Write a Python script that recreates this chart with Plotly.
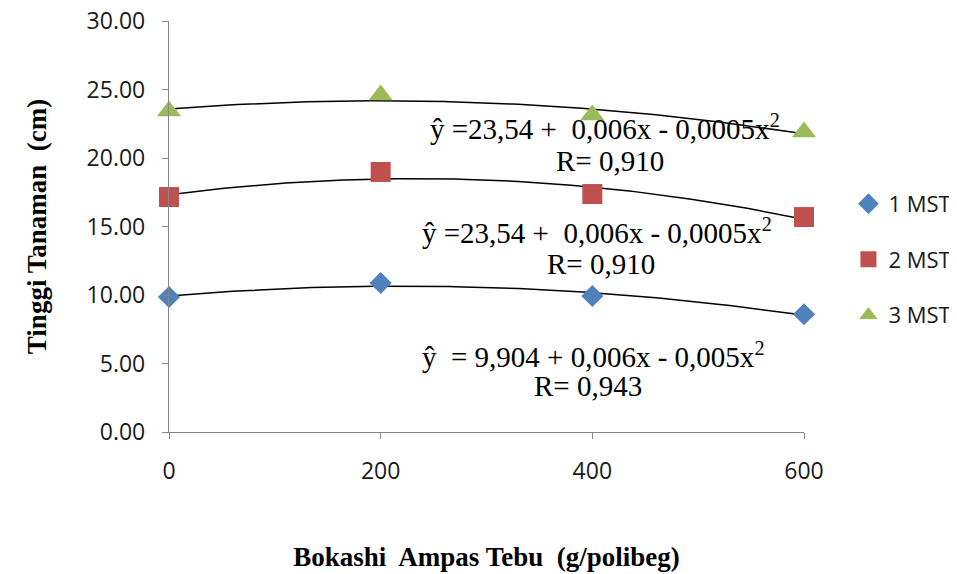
import numpy as np
import plotly.graph_objects as go

# Data
doses = [0, 200, 400, 600]
series_names = ["1 MST", "2 MST", "3 MST"]
mst1 = [9.85, 10.88, 9.93, 8.60]
mst2 = [17.15, 18.98, 17.37, 15.69]
mst3 = [23.43, 24.60, 23.14, 21.90]
y_ticks = [0, 5, 10, 15, 20, 25, 30]
y_tick_labels = ["0.00", "5.00", "10.00", "15.00", "20.00", "25.00", "30.00"]
x_ticks = [0, 200, 400, 600]

eq_lines = [
    ("ŷ  = 9,904 + 0,006x - 0,005x<sup>2</sup>", "R= 0,943"),
    ("ŷ =23,54 +  0,006x - 0,0005x<sup>2</sup>", "R= 0,910"),
    ("ŷ =23,54 +  0,006x - 0,0005x<sup>2</sup>", "R= 0,910"),
]

colors = ["#4F81BD", "#C0504D", "#9BBB59"]
symbols = ["diamond", "square", "triangle-up"]
sizes = [17, 20, 21]

fig = go.Figure()
xs = np.linspace(0, 600, 121)
all_series = [mst1, mst2, mst3]
for i, ys in enumerate(all_series):
    coef = np.polyfit(doses, ys, 2)
    fig.add_trace(go.Scatter(x=xs, y=np.polyval(coef, xs), mode="lines",
                             line=dict(color="black", width=1.5),
                             showlegend=False, hoverinfo="skip"))
for i, ys in enumerate(all_series):
    fig.add_trace(go.Scatter(x=doses, y=ys, mode="markers", name=series_names[i],
                             legendgroup=series_names[i],
                             marker=dict(color=colors[i], symbol=symbols[i], size=sizes[i],
                                         line=dict(width=0)),
                             cliponaxis=False))

# equation annotations (data coords)
eq_pos = [((401, 5.62), (396, 3.36)), ((404, 14.67), (408, 12.26)), ((412, 22.26), (417, 19.78))]
for (l1, l2), ((x1, y1), (x2, y2)) in zip(eq_lines, eq_pos):
    for txt, xx, yy in ((l1, x1, y1), (l2, x2, y2)):
        fig.add_annotation(x=xx, y=yy, xref="x", yref="y", text=txt, showarrow=False,
                           font=dict(family="Liberation Serif", size=29, color="black"),
                           xanchor="center", yanchor="middle")

axis_common = dict(showgrid=False, zeroline=False, showline=True, linecolor="#868686",
                   linewidth=1.3, ticks="outside", ticklen=6, tickcolor="#868686",
                   automargin=False, ticklabeloverflow="allow",
                   tickfont=dict(family="Open Sans", size=23, color="#1a1a1a"))

fig.update_xaxes(range=[0, 600], tickvals=x_ticks, ticklabelstandoff=12,
                 title=dict(text="<b>Bokashi  Ampas Tebu  (g/polibeg)</b>", standoff=62,
                            font=dict(family="Liberation Serif", size=27, color="black")),
                 **axis_common)
fig.update_yaxes(range=[0, 30], tickvals=y_ticks, ticktext=y_tick_labels, ticklabelstandoff=12,
                 title=dict(text="<b>Tinggi Tanaman  (cm)</b>", standoff=32,
                            font=dict(family="Liberation Serif", size=27, color="black")),
                 **axis_common)

fig.update_layout(
    width=957, height=574,
    margin=dict(l=161, r=161, t=13, b=150, autoexpand=False),
    plot_bgcolor="white", paper_bgcolor="white",
    legend=dict(x=1.07, xanchor="left", y=0.42, yanchor="middle",
                font=dict(family="Open Sans", size=22, color="#1a1a1a"),
                tracegroupgap=24, itemwidth=30, bgcolor="rgba(0,0,0,0)"),
)

fig.write_html("out.html")
